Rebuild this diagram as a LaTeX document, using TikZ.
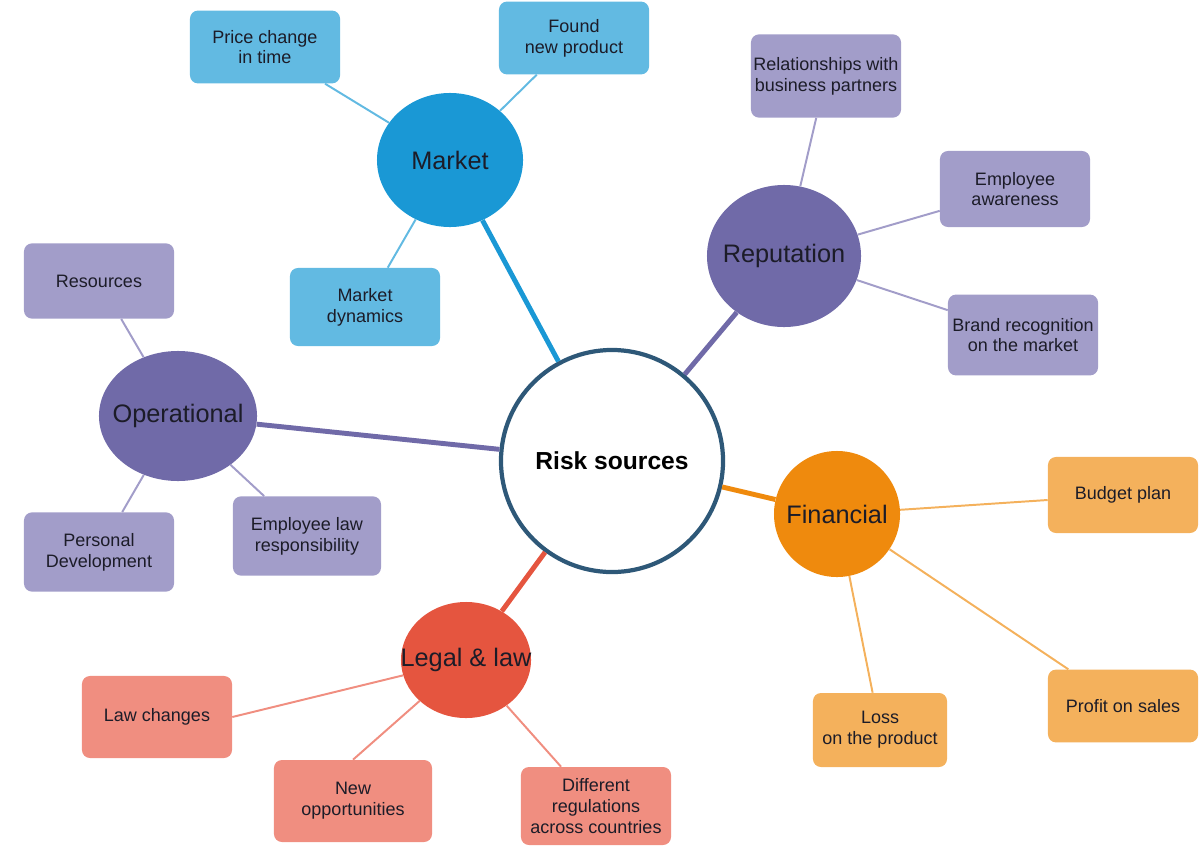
\documentclass[tikz,border=0pt]{standalone}
\usepackage{fontspec}
\setmainfont{Liberation Sans}
\usetikzlibrary{shapes.geometric}
\definecolor{txt}{HTML}{1C1C28}
\definecolor{core}{HTML}{2E5878}
\definecolor{bluehub}{HTML}{1A98D5}
\definecolor{blueleaf}{HTML}{62BAE2}
\definecolor{purphub}{HTML}{706AA8}
\definecolor{purpleaf}{HTML}{A29DC9}
\definecolor{orghub}{HTML}{EF8A0D}
\definecolor{orgleaf}{HTML}{F4B15C}
\definecolor{redhub}{HTML}{E5553F}
\definecolor{redleaf}{HTML}{F08E80}
\tikzset{
	hub/.style 2 args={ellipse,fill=#1,inner sep=0pt,label={[text=txt,font=\fontsize{18}{20}\selectfont]center:#2}},
	leaf/.style={rectangle,rounded corners=0.2cm,fill=#1,inner sep=1pt,minimum width=3.75cm,minimum height=1.9cm,align=center,text=txt,font=\fontsize{12.8}{14.8}\selectfont},
	spoke/.style={line width=3.5pt,draw=#1},
	twig/.style={line width=1.4pt,draw=#1}
}
\begin{document}
\begin{tikzpicture}[x=0.025cm,y=-0.025cm]
	\useasboundingbox (0,0) rectangle (1202,848);
	\node [circle,draw=core,line width=3pt,fill=white,minimum size=5.55cm,inner sep=0pt,text=black,font=\bfseries\fontsize{17.5}{20}\selectfont] (risk) at (612,461) {Risk sources};

	\node [hub={bluehub}{Market},minimum width=3.65cm,minimum height=3.35cm] (market) at (450,160) {};
	\node [hub={purphub}{Reputation},minimum width=3.85cm,minimum height=3.55cm] (reput) at (784,256) {};
	\node [hub={purphub}{Operational},minimum width=3.95cm,minimum height=3.25cm] (oper) at (178,416) {};
	\node [hub={orghub}{Financial},minimum width=3.15cm,minimum height=3.15cm] (fin) at (837,514) {};
	\node [hub={redhub}{Legal \& law},minimum width=3.25cm,minimum height=2.9cm] (legal) at (466,660) {};

	\node [leaf=blueleaf,minimum height=1.82cm] (price) at (265,47) {Price change\\in time};
	\node [leaf=blueleaf,minimum height=1.82cm] (found) at (574,38) {Found\\new product};
	\node [leaf=blueleaf,minimum height=1.95cm] (dyn) at (365,307) {Market\\dynamics};

	\node [leaf=purpleaf,minimum height=2.08cm] (partners) at (826,76) {Relationships with\\business partners};
	\node [leaf=purpleaf] (aware) at (1015,189) {Employee\\awareness};
	\node [leaf=purpleaf,minimum height=2.02cm] (brand) at (1023,335) {Brand recognition\\on the market};

	\node [leaf=purpleaf,minimum height=1.88cm] (resources) at (99,281) {Resources};
	\node [leaf=purpleaf,minimum height=1.98cm] (personal) at (99,552) {Personal\\Development};
	\node [leaf=purpleaf,minimum width=3.7cm,minimum height=1.98cm] (emplaw) at (307,536) {Employee law\\responsibility};

	\node [leaf=orgleaf] (budget) at (1123,495) {Budget plan};
	\node [leaf=orgleaf,minimum width=3.35cm,minimum height=1.85cm] (loss) at (880,730) {Loss\\on the product};
	\node [leaf=orgleaf,minimum height=1.82cm] (profit) at (1123,706) {Profit on sales};

	\node [leaf=redleaf,minimum height=2.05cm] (lawch) at (157,717) {Law changes};
	\node [leaf=redleaf,minimum width=3.95cm,minimum height=2.05cm] (newopp) at (353,801) {New\\opportunities};
	\node [leaf=redleaf,minimum height=1.95cm] (diffreg) at (596,806) {Different\\regulations\\across countries};

	\draw [spoke=bluehub] (market) -- (risk);
	\draw [spoke=purphub] (reput) -- (risk);
	\draw [spoke=purphub] (oper) -- (risk);
	\draw [spoke=orghub] (fin) -- (risk);
	\draw [spoke=redhub] (legal) -- (risk);

	\draw [twig=blueleaf] (price) -- (market);
	\draw [twig=blueleaf] (found) -- (market);
	\draw [twig=blueleaf] (dyn) -- (market);
	\draw [twig=purpleaf] (partners) -- (reput);
	\draw [twig=purpleaf] (aware) -- (reput);
	\draw [twig=purpleaf] (brand) -- (reput);
	\draw [twig=purpleaf] (resources) -- (oper);
	\draw [twig=purpleaf] (personal) -- (oper);
	\draw [twig=purpleaf] (emplaw) -- (oper);
	\draw [twig=orgleaf] (budget) -- (fin);
	\draw [twig=orgleaf] (loss) -- (fin);
	\draw [twig=orgleaf] (profit) -- (fin);
	\draw [twig=redleaf] (lawch.east) -- (legal);
	\draw [twig=redleaf] (newopp.north) -- (legal);
	\draw [twig=redleaf] (diffreg) -- (legal);
\end{tikzpicture}
\end{document}
